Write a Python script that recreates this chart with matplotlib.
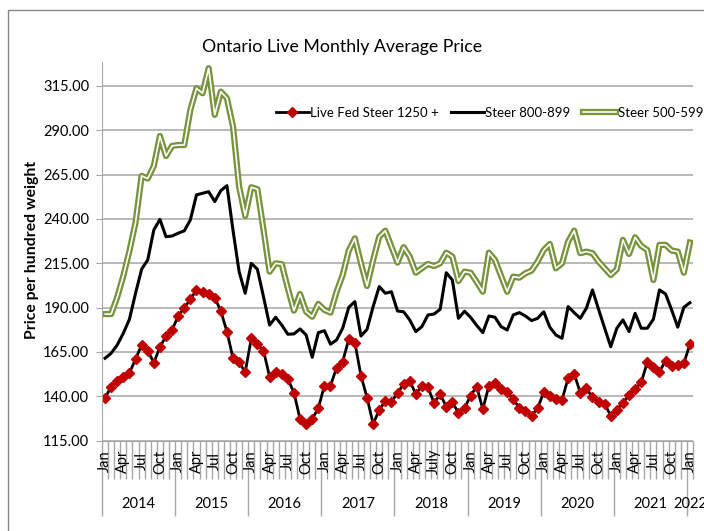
import matplotlib
matplotlib.use('Agg')
import matplotlib.pyplot as plt
import matplotlib.patheffects as pe
from matplotlib.lines import Line2D

# monthly data, Jan 2014 .. Jan 2022
years = ['2014', '2015', '2016', '2017', '2018', '2019', '2020', '2021', '2022']
month_labels = ['Jan', 'Apr', 'Jul', 'Oct']
month_labels_2018 = ['Jan', 'Apr', 'July', 'Oct']

fed_1250 = [139.0, 145.5, 148.8, 150.9, 153.3, 160.9, 169.0, 165.8, 159.0, 167.7, 174.0, 177.4,
            185.3, 190.0, 194.7, 200.0, 198.7, 197.7, 195.6, 188.1, 176.5, 161.5, 159.2, 153.6,
            172.7, 169.5, 165.8, 151.1, 153.9, 152.6, 149.8, 142.1, 127.2, 124.4, 127.2, 133.3,
            146.0, 146.0, 156.2, 159.6, 172.2, 170.3, 151.7, 139.2, 124.4, 132.3, 137.4, 137.0,
            141.7, 147.0, 148.8, 141.3, 146.0, 145.1, 136.1, 141.2, 134.2, 136.6, 130.8, 133.3,
            140.4, 145.5, 132.7, 146.0, 147.4, 144.0, 142.6, 138.5, 133.3, 131.7, 129.1, 133.3,
            142.3, 140.4, 138.5, 138.0, 150.2, 152.6, 142.1, 144.5, 139.4, 137.0, 135.7, 129.1,
            132.3, 136.4, 140.8, 144.0, 147.9, 159.2, 156.7, 153.9, 160.1, 157.1, 157.7, 158.6,
            169.5]

steer_800 = [161.5, 164.3, 169.0, 175.6, 183.5, 198.1, 211.7, 216.9, 233.8, 239.8, 230.0, 230.4,
             232.0, 233.3, 239.5, 253.6, 254.5, 255.4, 249.8, 256.0, 258.8, 233.6, 210.3, 198.1,
             215.0, 211.7, 196.2, 180.2, 184.6, 180.2, 175.0, 175.2, 178.0, 174.6, 162.0, 175.9,
             177.0, 169.4, 171.8, 178.4, 190.2, 193.4, 174.0, 177.8, 190.6, 201.9, 198.1, 199.0,
             188.1, 187.7, 183.1, 176.5, 179.3, 185.9, 186.4, 189.1, 209.7, 205.6, 184.0, 188.0,
             184.5, 180.0, 175.9, 185.3, 184.6, 179.3, 177.4, 185.9, 187.2, 185.3, 182.7, 184.0,
             187.7, 179.0, 174.6, 172.7, 190.6, 187.2, 184.0, 189.7, 200.0, 189.1, 178.4, 168.0,
             178.4, 183.1, 176.5, 186.8, 178.4, 178.4, 183.5, 200.0, 197.7, 188.7, 179.0, 190.2,
             192.8]

steer_500 = [186.4, 186.4, 196.0, 208.0, 222.0, 238.0, 264.3, 262.8, 269.9, 286.8, 275.5, 281.2,
             281.7, 281.7, 301.5, 313.7, 310.9, 325.0, 298.7, 311.8, 308.1, 292.1, 258.2, 241.7,
             257.9, 256.8, 234.0, 210.3, 215.0, 214.5, 200.9, 188.3, 197.7, 187.7, 184.9, 192.1,
             188.7, 187.2, 199.0, 208.4, 222.2, 229.1, 215.0, 202.2, 216.9, 230.0, 233.4, 224.4,
             215.4, 224.1, 218.8, 209.7, 212.2, 214.6, 213.5, 215.0, 221.0, 218.8, 205.0, 210.3,
             209.7, 204.5, 199.0, 221.0, 216.9, 207.9, 199.0, 207.5, 206.9, 209.4, 210.9, 216.0,
             222.5, 225.9, 212.2, 215.0, 227.2, 233.4, 220.7, 221.6, 220.7, 216.0, 212.2, 208.4,
             211.6, 228.2, 220.3, 229.7, 224.8, 222.5, 205.6, 225.4, 225.4, 222.2, 221.6, 209.7,
             226.7]

plt.rcParams['font.family'] = 'Lato'

grid_col = '#a6a6a6'
olive = '#77933c'

fig = plt.figure(figsize=(7.04, 5.31), dpi=100)
ax = fig.add_axes([0.1445, 0.1701, 0.8403, 0.7131])

x = list(range(len(fed_1250)))
ax.plot(x, steer_500, color='white', lw=1.2, label='Steer 500-599',
        path_effects=[pe.Stroke(linewidth=4.5, foreground=olive), pe.Normal()])
ax.plot(x, steer_800, color='black', lw=2.2, label='Steer 800-899')
ax.plot(x, fed_1250, color='black', lw=2.0, marker='D', ms=5.3, mfc='#c00000',
        mec='#c00000', label='Live Fed Steer 1250 +')

ax.set_xlim(-0.55, len(x) - 0.45)
ax.set_ylim(115, 328.5)
ax.set_yticks(range(115, 316, 25))
ax.set_yticklabels([f'{v:.2f}' for v in range(115, 316, 25)], fontsize=10.5)
ax.yaxis.grid(True, color=grid_col, lw=1.1)
ax.set_axisbelow(True)
for s in ['top', 'right']:
    ax.spines[s].set_visible(False)
for s in ['left', 'bottom']:
    ax.spines[s].set_color(grid_col)
ax.tick_params(axis='y', length=4, color=grid_col, pad=5)

# multi-level category axis: year separators (major) and month separators (minor)
ax.set_xticks([12 * k - 0.5 for k in range(len(years))])
ax.set_xticks([i - 0.5 for i in range(len(x) + 1)], minor=True)
ax.set_xticklabels([])
ax.tick_params(axis='x', which='major', length=54, color=grid_col, width=1)
ax.tick_params(axis='x', which='minor', length=27, color=grid_col, width=1)

tr = ax.get_xaxis_transform()
for k, yr in enumerate(years):
    labels = month_labels_2018 if yr == '2018' else month_labels
    for j, lab in enumerate(labels):
        i = 12 * k + 3 * j
        if i >= len(x):
            break
        ax.text(i, -0.055, lab, transform=tr, rotation=90, ha='center', va='center',
                fontsize=10.5)
    cx = 12 * k + 5.5 if 12 * k + 11 < len(x) else 12 * k
    ax.text(cx, -0.167, yr, transform=tr, ha='center', va='center', fontsize=10.5)

fig.text(0.486, 0.912, 'Ontario Live Monthly Average Price', ha='center', va='center',
         fontsize=12.8)
fig.text(0.045, 0.53, 'Price per hundred weight', rotation=90, ha='center', va='center',
         fontsize=11.3, fontweight='bold')

h, l = ax.get_legend_handles_labels()
leg = fig.legend(h[::-1], l[::-1], loc='center left', bbox_to_anchor=(0.382, 0.787),
                 ncol=3, frameon=False, fontsize=9.5, borderpad=0, handlelength=2.5,
                 handletextpad=0.1, columnspacing=0.95, numpoints=1)

# outer chart border (left and top edges visible)
fig.add_artist(Line2D([8 / 704, 8 / 704, 1.0], [0.0, 1 - 10 / 531, 1 - 10 / 531],
                      color='#868686', lw=1, transform=fig.transFigure))

fig.savefig('out.png', dpi=100)
